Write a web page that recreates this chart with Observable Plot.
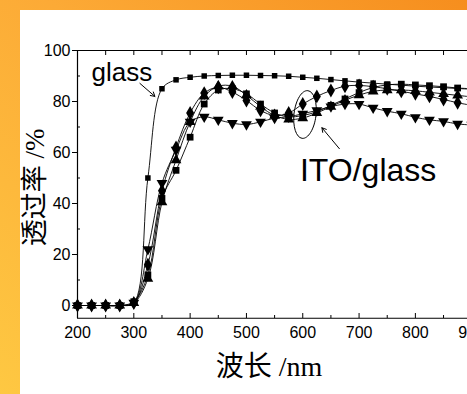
<!DOCTYPE html>
<html><head><meta charset="utf-8">
<script src="https://cdn.jsdelivr.net/npm/d3@7"></script>
<script src="https://cdn.jsdelivr.net/npm/@observablehq/plot@0.6"></script>
<style>
html,body{margin:0;padding:0;width:467px;height:394px;overflow:hidden;}
body{background:linear-gradient(to bottom left,#F68E1E 0%,#FCAA36 45%,#FEC842 100%);position:relative;}
#panel{position:absolute;left:20px;top:10px;width:447px;height:384px;background:#fff;overflow:hidden;}
</style></head><body><div id="panel"></div>
<script>
const wavelengths = [200,225,250,275,300,325,350,375,400,425,450,475,500,525,550,575,600,625,650,675,700,725,750,775,800,825,850,875,900];
const glass = [0,0,0,0,1,50,85,88.5,89.5,90,90.2,90.3,90.3,90.2,90.1,89.9,89.5,89.1,88.6,88.1,87.6,87.2,86.8,86.4,86,85.7,85.4,85.1,84.8];
const itoDiamond = [0,0,0,0,1,16,45,62,75.5,83.3,85.6,83.7,80.4,76.5,74.5,75.5,79,82,84.3,86,86.3,85.8,85,84,83,82,80.8,79.5,78.5];
const itoTriangle = [0,0,0,0,1,10.5,40.5,57,72,82,86,86,82.5,78,74.5,73,73.5,75.5,78,80.5,82.5,84,84.5,84.5,84.2,83.6,83,82.4,81.8];
const itoSquare = [0,0,0,0,1.5,12,42,53,66,79,84.5,85,83,79,75.5,74,74.5,76,78.5,81,83.5,85.5,86.5,86.8,86.5,86.2,85.8,85.3,85];
const itoTriDown = [0,0,0,0,1,22,48,61,72,74,72.8,71.5,71,72,73.5,74,75.2,76.5,78,79,79,77.5,76.2,75.2,73.8,72.8,72.2,71.2,70.8];
const xTicks = [200,300,400,500,600,700,800,900];
const yTicks = [0,20,40,60,80,100];

function toRows(name, arr){ return wavelengths.map((w,i)=>({series:name, nm:w, T:arr[i]})); }
const sGlass = toRows("glass", glass);
const sD = toRows("d", itoDiamond);
const sT = toRows("t", itoTriangle);
const sS = toRows("s", itoSquare);
const sV = toRows("v", itoTriDown);
const all = [...sGlass, ...sD, ...sT, ...sS, ...sV];

const triDown = {draw(ctx, size){
  const s = Math.sqrt(size/(Math.sqrt(3)/4)); const h = s*Math.sqrt(3)/2;
  ctx.moveTo(-s/2,-h/3); ctx.lineTo(s/2,-h/3); ctx.lineTo(0,2*h/3); ctx.closePath();
}};
const ellipse = {draw(ctx){
  const rx=11, ry=24, a=0.12, k=0.5523;
  const pts=[[rx,0],[rx,k*ry],[k*rx,ry],[0,ry],[-k*rx,ry],[-rx,k*ry],[-rx,0],[-rx,-k*ry],[-k*rx,-ry],[0,-ry],[k*rx,-ry],[rx,-k*ry],[rx,0]]
    .map(([x,y])=>[x*Math.cos(a)-y*Math.sin(a), x*Math.sin(a)+y*Math.cos(a)]);
  ctx.moveTo(...pts[0]);
  for(let i=1;i<pts.length;i+=3) ctx.bezierCurveTo(...pts[i],...pts[i+1],...pts[i+2]);
  ctx.closePath();
}};

const chart = Plot.plot({
  width:447, height:384,
  marginLeft:57, marginRight:0, marginTop:40, marginBottom:76,
  x:{domain:[200,900], range:[57,451.2]},
  y:{domain:[-5,100], range:[307.75,40]},
  style:{fontFamily:"'Liberation Sans', Arial, sans-serif", background:"transparent", color:"#000", overflow:"hidden"},
  marks:[
    Plot.ruleY([100],{stroke:"#000",strokeWidth:1}),
    Plot.ruleY([-5],{stroke:"#000",strokeWidth:1.2}),
    Plot.ruleX([200],{stroke:"#000",strokeWidth:1.2}),
    Plot.axisY({ticks:yTicks, tickSize:5, tickPadding:2, fontSize:16, label:null}),
    Plot.axisY({ticks:[10,30,50,70,90], tickSize:-3, tickFormat:()=>"", label:null}),
    Plot.axisX({ticks:xTicks, tickSize:-5, tickFormat:()=>"", label:null}),
    Plot.axisX({ticks:xTicks, tickSize:0, tickPadding:8, fontSize:16, label:null}),
    Plot.axisX({ticks:[250,350,450,550,650,750,850], tickSize:-3, tickFormat:()=>"", label:null}),
    Plot.axisX({anchor:"top", ticks:[200,250,300,350,400,450,500,550,600,650,700,750,800,850,900], tickSize:-4, tickFormat:()=>"", label:null}),
    Plot.line(all, {x:"nm", y:"T", z:"series", curve:"catmull-rom", stroke:"#000", strokeWidth:0.9}),
    Plot.dot(sGlass, {x:"nm", y:"T", symbol:"square", r:3.1, fill:"#000", stroke:null}),
    Plot.dot(sS, {x:"nm", y:"T", symbol:"square", r:3.8, fill:"#000", stroke:null}),
    Plot.dot(sT, {x:"nm", y:"T", symbol:"triangle", r:4, fill:"#000", stroke:null}),
    Plot.dot(sV, {x:"nm", y:"T", symbol:triDown, r:4, fill:"#000", stroke:null}),
    Plot.dot(sD, {x:"nm", y:"T", symbol:"diamond", r:4.2, fill:"#000", stroke:null}),
    Plot.dot([{x:604,y:74.9}], {x:"x", y:"y", symbol:ellipse, r:10, fill:"none", stroke:"#000", strokeWidth:1}),
    Plot.arrow([{x1:310.8,y1:87.1,x2:337.4,y2:82}], {x1:"x1",y1:"y1",x2:"x2",y2:"y2", stroke:"#000", strokeWidth:1, headLength:7}),
    Plot.arrow([{x1:665,y1:61.5,x2:634,y2:69.7}], {x1:"x1",y1:"y1",x2:"x2",y2:"y2", stroke:"#000", strokeWidth:1, headLength:7}),
    Plot.text([{x:225,y:88.2,t:"glass"}], {x:"x",y:"y",text:"t", textAnchor:"start", lineAnchor:"bottom", fontSize:26, fill:"#000"}),
    Plot.text([{x:595,y:48.7,t:"ITO/glass"}], {x:"x",y:"y",text:"t", textAnchor:"start", lineAnchor:"bottom", fontSize:32, fill:"#000"}),
    Plot.text([{x:540,y:-27.5,t:"波长 /nm"}], {x:"x",y:"y",text:"t", textAnchor:"middle", lineAnchor:"bottom", fontSize:28, fontFamily:"'Liberation Serif','Noto Sans CJK SC',serif", fill:"#000"}),
    Plot.text([{x:125,y:46.3,t:"透过率 /%"}], {x:"x",y:"y",text:"t", textAnchor:"middle", lineAnchor:"middle", rotate:-90, fontSize:27, fontFamily:"'Liberation Serif','Noto Sans CJK SC',serif", fill:"#000"})
  ]
});
document.getElementById("panel").appendChild(chart);
</script>
</body></html>
